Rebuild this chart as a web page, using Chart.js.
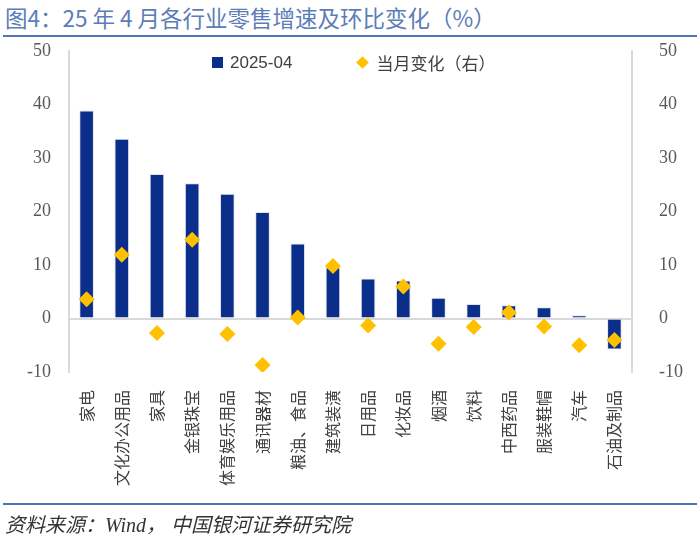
<!DOCTYPE html>
<html>
<head>
<meta charset="utf-8">
<script src="https://cdn.jsdelivr.net/npm/chart.js@4/dist/chart.umd.min.js"></script>
<style>
  body { margin: 0; background: #fff; }
  #wrap { position: relative; width: 700px; height: 551px; overflow: hidden; }
  #title { position: absolute; left: 5px; top: 1px; font: 22.5px "Noto Sans CJK SC", sans-serif; color: #5b7db8; white-space: nowrap; }
  .rule { position: absolute; left: 3px; width: 694px; height: 2px; background: #4f74b8; }
  #src { position: absolute; left: 5px; top: 509px; font: italic 20px "Liberation Serif", "Noto Sans CJK SC", serif; color: #333; white-space: nowrap; }
  #legend { position: absolute; top: 50px; left: 212px; font: 17px "Liberation Sans", "Noto Sans CJK SC", sans-serif; color: #404040; white-space: nowrap; }
  #legend span { display: inline-block; vertical-align: middle; }
  .sq { width: 11px; height: 11px; background: #0a2e8a; margin-right: 7px; }
  .dm { width: 9px; height: 9px; background: #ffc000; transform: rotate(45deg); margin: 0 9px 0 66px; }
  canvas { position: absolute; left: 0; top: 0; }
</style>
</head>
<body>
<div id="wrap">
  <div id="title">图4：25 年 4 月各行业零售增速及环比变化（%）</div>
  <div class="rule" style="top:35px"></div>
  <canvas id="myChart" width="700" height="551"></canvas>
  <div id="legend"><span class="sq"></span><span>2025-04</span><span class="dm"></span><span>当月变化（右）</span></div>
  <div class="rule" style="top:503px"></div>
  <div id="src">资料来源：Wind，&nbsp;中国银河证券研究院</div>
</div>
<script>
const labels = ["家电", "文化办公用品", "家具", "金银珠宝", "体育娱乐用品", "通讯器材", "粮油、食品", "建筑装潢",
  "日用品", "化妆品", "烟酒", "饮料", "中西药品", "服装鞋帽", "汽车", "石油及制品"];
const growth = [38.9, 33.6, 27.0, 25.3, 23.3, 19.9, 14.0, 9.6, 7.5, 7.1, 3.9, 2.7, 2.5, 2.1, 0.6, -5.8];
const monthChange = [3.6, 11.9, -2.7, 14.7, -2.9, -8.7, 0.2, 9.8, -1.3, 6.0, -4.7, -1.6, 1.1, -1.5, -5.0, -4.0];
const yTicks = [-10, 0, 10, 20, 30, 40, 50];

const tickFont = { family: "Liberation Serif", size: 18 };
const ctx = document.getElementById("myChart").getContext("2d");
const myChart = new Chart(ctx, {
  type: "bar",
  data: {
    labels: labels,
    datasets: [{
        type: "line",
        label: "当月变化（右）",
        data: monthChange,
        yAxisID: "y2",
        showLine: false,
        pointStyle: "rectRot",
        pointRadius: 8,
        pointBackgroundColor: "#ffc000",
        pointBorderColor: "#ffc000",
        pointBorderWidth: 0,
        order: 0,
      },
      {
        label: "2025-04",
        data: growth,
        yAxisID: "y",
        backgroundColor: "#0a2e8a",
        borderColor: "#dfe4f0",
        borderWidth: 1,
        categoryPercentage: 0.8,
        barPercentage: 0.52,
        order: 1,
      },
    ],
  },
  options: {
    responsive: false,
    animation: false,
    layout: { padding: { top: 51, bottom: 0, left: 0, right: 0 } },
    plugins: { legend: { display: false }, tooltip: { enabled: false } },
    scales: {
      x: {
        grid: { display: false },
        border: { display: false },
        ticks: { color: "#404040", font: { family: "Noto Sans CJK SC", size: 16 }, minRotation: 90, maxRotation: 90, padding: 10, autoSkip: false },
        afterFit: (s) => { s.height = 179; },
      },
      y: {
        position: "left",
        min: -10,
        max: 50,
        afterBuildTicks: (s) => { s.ticks = yTicks.map((v) => ({ value: v })); },
        grid: { color: (c) => (c.tick && c.tick.value === 0 ? "#d9d9d9" : "transparent"), lineWidth: 2, drawTicks: false },
        border: { display: true, color: "#d9d9d9", width: 2 },
        ticks: { color: "#595959", font: tickFont, padding: 18 },
        afterFit: (s) => { s.width = 69; },
      },
      y2: {
        position: "right",
        min: -10,
        max: 50,
        afterBuildTicks: (s) => { s.ticks = yTicks.map((v) => ({ value: v })); },
        grid: { display: false },
        border: { display: true, color: "#d9d9d9", width: 2 },
        ticks: { color: "#595959", font: tickFont, padding: 19 },
        afterFit: (s) => { s.width = 68; },
      },
    },
  },
});
</script>
</body>
</html>
